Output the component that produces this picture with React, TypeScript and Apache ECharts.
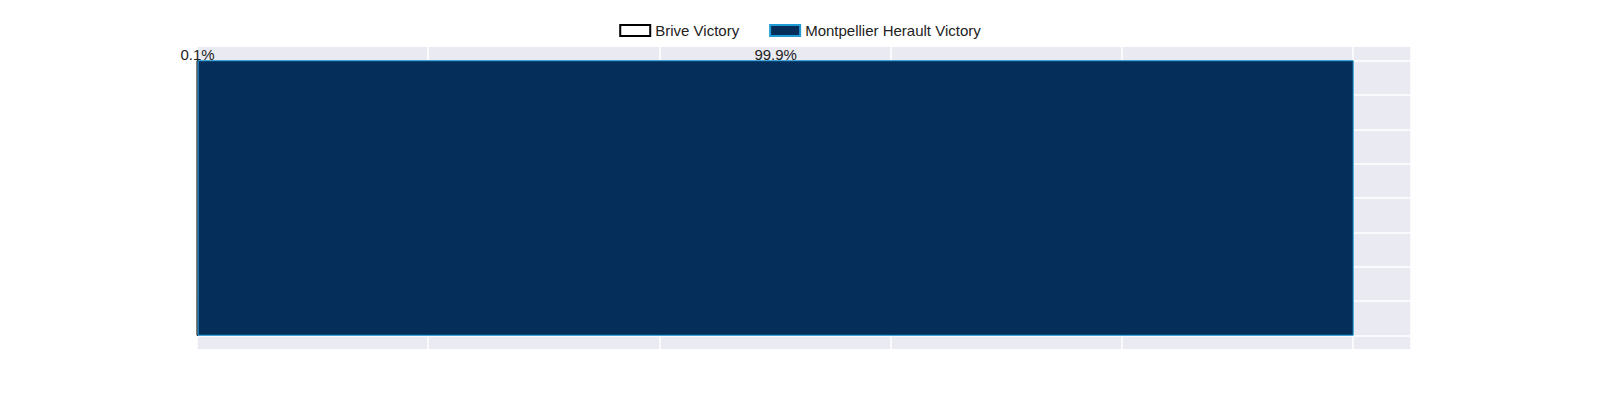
import React, { useEffect, useRef } from "react";
import * as echarts from "echarts";

const seriesNames = ["Brive Victory", "Montpellier Herault Victory"];
const shares = [0.001, 0.999];
const labels = ["0.1%", "99.9%"];
const fills = ["#ffffff", "#052e5b"];
const edges = ["#000000", "#1f9bd6"];
const gridYs = [-0.4, -0.3, -0.2, -0.1, 0, 0.1, 0.2, 0.3, 0.4];

export default function App() {
  const ref = useRef<HTMLDivElement | null>(null);

  useEffect(() => {
    document.body.style.margin = "0";
    const chart = echarts.init(ref.current!, undefined, { renderer: "svg" });
    let start = 0;
    const segs = shares.map((v, i) => {
      const s = { value: [start, start + v, i] };
      start += v;
      return s;
    });
    chart.setOption({
      animation: false,
      textStyle: { fontFamily: "Liberation Sans, Arial, sans-serif" },
      legend: {
        top: 18,
        left: "center",
        icon: "rect",
        itemWidth: 30,
        itemHeight: 11,
        itemGap: 30,
        textStyle: { fontSize: 15, color: "#222" },
        data: seriesNames,
      },
      grid: { left: 197, right: 189, top: 47, bottom: 51, show: true, backgroundColor: "#eaeaf2", borderWidth: 0 },
      xAxis: {
        type: "value", min: 0, max: 1.05, interval: 0.2,
        axisLabel: { show: false }, axisLine: { show: false }, axisTick: { show: false },
        splitLine: { lineStyle: { color: "#ffffff", width: 1.5 } },
      },
      yAxis: {
        type: "value", min: -0.44, max: 0.44,
        axisLabel: { show: false }, axisLine: { show: false }, axisTick: { show: false },
        splitLine: { show: false },
      },
      series: [
        {
          type: "line", data: [], z: 1,
          markLine: {
            silent: true, symbol: "none", label: { show: false },
            lineStyle: { color: "#ffffff", width: 1.5, type: "solid" },
            data: gridYs.map((y) => ({ yAxis: y })),
          },
        },
        ...seriesNames.map((name, i) => ({
          name,
          type: "custom",
          zlevel: 1,
          z: 2,
          itemStyle: { color: fills[i], borderColor: edges[i], borderWidth: 1 },
          data: [segs[i]],
          renderItem: (params: any, api: any) => {
            const x0 = api.value(0), x1 = api.value(1);
            const p0 = api.coord([x0, 0.4]);
            const p1 = api.coord([x1, -0.4]);
            return {
              type: "group",
              children: [
                {
                  type: "rect",
                  shape: { x: p0[0], y: p0[1], width: p1[0] - p0[0], height: p1[1] - p0[1] },
                  style: { fill: fills[i], stroke: edges[i], lineWidth: 1 },
                },
                {
                  type: "text",
                  style: {
                    x: (p0[0] + p1[0]) / 2, y: p0[1] - 6, text: labels[i],
                    align: "center", verticalAlign: "middle",
                    fontSize: 15, fill: "#222", fontFamily: "Liberation Sans, Arial, sans-serif",
                  },
                  z2: 10,
                },
              ],
            };
          },
        })),
      ],
    });
    return () => chart.dispose();
  }, []);

  return <div ref={ref} style={{ width: 1600, height: 400 }} />;
}
